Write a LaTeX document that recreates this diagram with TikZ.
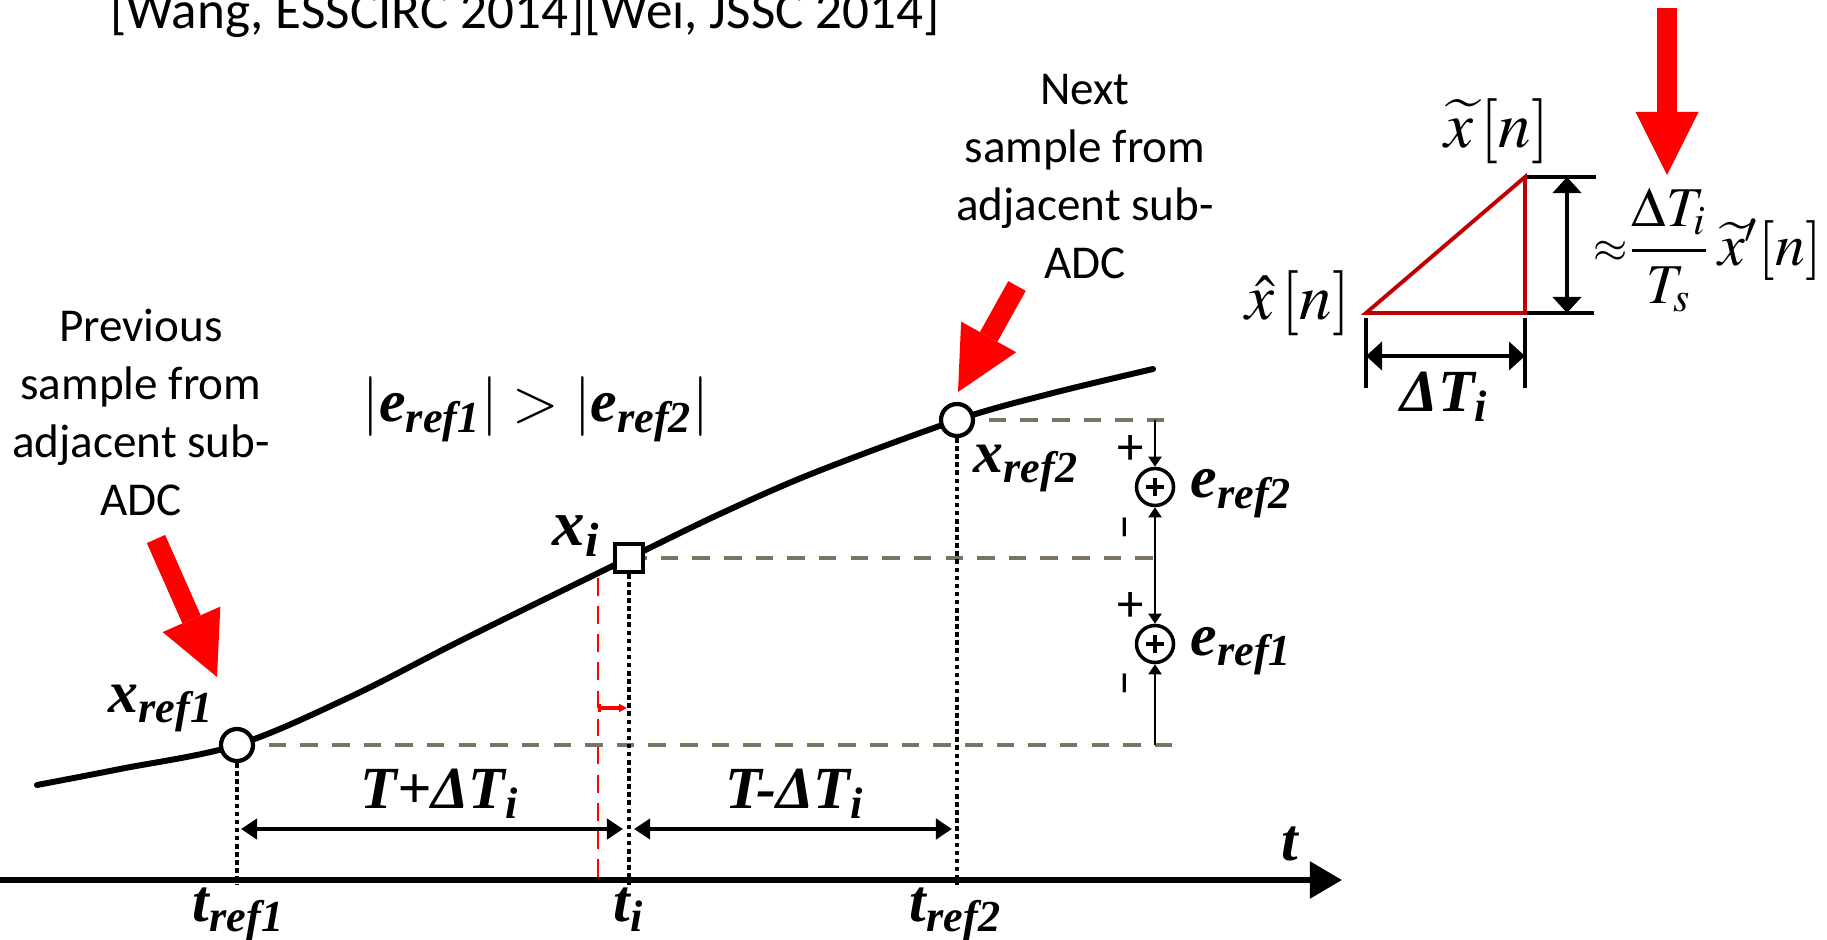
\documentclass[tikz,border=0pt]{standalone}
\usepackage{mathptmx}
\usepackage{fontspec}
\setmainfont{Liberation Serif}
\newfontfamily\timesfont{Liberation Serif}
\newfontfamily\calibri{Carlito}
\usetikzlibrary{arrows.meta}

\newcommand{\bi}[2]{{\timesfont\bfseries\itshape #1\textsubscript{#2}}}

\begin{document}
\begin{tikzpicture}[
		x=0.01cm,
		y=-0.01cm,
		every node/.style={inner sep=0pt},
		note/.style={font=\calibri\fontsize{13.4}{16.5}\selectfont, align=center},
		lbl/.style={font=\fontsize{17}{20}\selectfont},
		formula/.style={font=\fontsize{18.5}{22}\selectfont},
		curve/.style={line width=1.7pt, line cap=round},
		sample/.style={circle, draw, fill=white, line width=1.2pt, minimum size=0.32cm},
		sqnode/.style={rectangle, draw, fill=white, line width=1.1pt, minimum size=0.28cm},
		level/.style={draw=levelgray, line width=0.9pt, dash pattern=on 5pt off 4pt},
		drop/.style={line width=1.3pt, dash pattern=on 1.3pt off 1pt},
		ideal/.style={red, line width=0.5pt, dash pattern=on 5pt off 3pt},
		span/.style={line width=1.2pt, {Triangle[length=0.16cm, width=0.2cm]}-{Triangle[length=0.16cm, width=0.2cm]}},
		sumline/.style={line width=0.6pt, -{Triangle[length=0.1cm, width=0.13cm]}},
		sumnode/.style={circle, draw, fill=white, line width=1pt, minimum size=0.37cm,
				path picture={\draw[line width=1pt]
						([xshift=-0.09cm]path picture bounding box.center) -- ([xshift=0.09cm]path picture bounding box.center)
						([yshift=-0.09cm]path picture bounding box.center) -- ([yshift=0.09cm]path picture bounding box.center);}},
		sign/.style={font=\calibri\fontsize{15}{15}\selectfont},
		bigarrow/.style={draw=red, line width=0.2cm, -{Triangle[length=0.63cm, width=0.63cm, line width=0pt]}},
		tick/.style={line width=1.2pt},
		dim/.style={line width=1.2pt, {Triangle[length=0.16cm, width=0.28cm]}-{Triangle[length=0.16cm, width=0.28cm]}},
		tri/.style={draw=darkred, line width=1.1pt, line join=miter}
	]
	\definecolor{levelgray}{RGB}{122,117,96}
	\definecolor{darkred}{RGB}{192,0,0}
	\useasboundingbox (0,0) rectangle (1827,940);

	% ---- header and notes ----------------------------------------
	\node[note, anchor=base, font=\calibri\fontsize{15.1}{18}\selectfont] (cite) at (525,29) {[Wang, ESSCIRC 2014][Wei, JSSC 2014]};
	\node[note] (prev) at (141,412) {Previous\\sample from\\adjacent sub-\\ADC};
	\node[note] (next) at (1085,177) {Next\\sample from\\adjacent sub-\\ADC};

	% ---- time axis -----------------------------------------------
	\coordinate (o) at (0,880);
	\coordinate (tend) at (1342,880);
	\draw[line width=1.5pt, -{Triangle[length=0.32cm, width=0.36cm]}] (o) -- (tend);
	\node[lbl, anchor=base] (tlab) at (1291,860) {\bi{t}{}};

	% ---- signal curve --------------------------------------------
	\draw[curve] plot[smooth, tension=0.55] coordinates {(37,785) (120,769) (237,745) (350,697) (466,638) (629,558) (722,513) (816,472) (957,420) (1049,394) (1153,369)};

	% ---- levels and sampling instants ----------------------------
	\coordinate (d2) at (1178,420);
	\coordinate (di) at (1167,558);
	\coordinate (d1) at (1172,745);
	\draw[level] (957,420) -- (d2);
	\draw[level] (629,558) -- (di);
	\draw[level] (237,745) -- (d1);

	\coordinate (rtop) at (598,578);
	\draw[ideal] (rtop) -- (rtop |- o);

	\node[sample] (xr1) at (237,745) {};
	\node[sample] (xr2) at (957,420) {};
	\node[sqnode] (xi) at (629,558) {};

	\draw[drop] (xr1.south) -- ([yshift=-0.05cm]xr1 |- o);
	\draw[drop] (xi.south) -- ([yshift=-0.05cm]xi |- o);
	\draw[drop] (xr2.south) -- ([yshift=-0.05cm]xr2 |- o);

	\draw[red, line width=0.9pt, {Bar[width=0.08cm]}-{Triangle[length=0.08cm, width=0.08cm]}] (rtop |- 0,708) -- ([xshift=-0.02cm]xi |- 0,708);

	\node[lbl, anchor=base west] (lxr1) at (108,712) {\bi{x}{ref1}};
	\node[lbl, anchor=base west] (lxr2) at (973,472) {\bi{x}{ref2}};
	\node[lbl, anchor=base west, font=\fontsize{18.5}{20}\selectfont] (lxi) at (552,545) {\bi{x}{i}};
	\node[lbl, anchor=base] (cmp) at (536,422) {$|$\bi{e}{ref1}$|$ $>$ $|$\bi{e}{ref2}$|$};

	\node[lbl, anchor=base] (lt1) at (239,921) {\bi{t}{ref1}};
	\node[lbl, anchor=base] (lti) at (629,921) {\bi{t}{i}};
	\node[lbl, anchor=base] (lt2) at (956,921) {\bi{t}{ref2}};

	% ---- intervals -----------------------------------------------
	\draw[span] ([xshift=0.04cm]xr1 |- 0,829) -- ([xshift=-0.06cm]xi |- 0,829);
	\draw[span] ([xshift=0.05cm]xi |- 0,829) -- ([xshift=-0.05cm]xr2 |- 0,829);
	\node[lbl, anchor=base] (lplus) at (440,808) {\bi{T+ΔT}{i}};
	\node[lbl, anchor=base] (lminus) at (795,808) {\bi{T-ΔT}{i}};

	% ---- error summation -----------------------------------------
	\node[sumnode] (s2) at (1155,487) {};
	\node[sumnode] (s1) at (1155,644) {};
	\draw[sumline] (d2 -| s2) -- (s2);
	\draw[sumline] (di -| s2) -- (s2);
	\draw[sumline] (di -| s1) -- (s1);
	\draw[sumline] (d1 -| s1) -- (s1);
	\foreach \y in {450,607} {
			\node[sign] at (1131,\y) {+};
		}
	\foreach \y in {527,683} {
			\node[sign, rotate=90] at (1131,\y) {–};
		}
	\node[lbl, anchor=base west] (le2) at (1190,498) {\bi{e}{ref2}};
	\node[lbl, anchor=base west] (le1) at (1190,655) {\bi{e}{ref1}};

	% ---- pointers ------------------------------------------------
	\coordinate (p1a) at (156,539);
	\coordinate (p1b) at (217,677);
	\coordinate (p2a) at (1017,286);
	\coordinate (p2b) at (958,392);
	\coordinate (p3a) at (1667,8);
	\coordinate (p3b) at (1667,175);
	\draw[bigarrow] (p1a) -- (p1b);
	\draw[bigarrow] (p2a) -- (p2b);
	\draw[bigarrow] (p3a) -- (p3b);

	% ---- interpolation triangle ----------------------------------
	\coordinate (hat) at (1366,313);
	\coordinate (til) at (1525,177);
	\coordinate (cor) at (1525,313);
	\coordinate (tilR) at (1596,177);
	\coordinate (corR) at (1594,313);
	\draw[tick] (til) -- (tilR);
	\draw[tick] (cor) -- (corR);
	\draw[tick] ([yshift=-0.05cm]hat) -- (hat |- 0,388);
	\draw[tick] ([yshift=-0.05cm]cor) -- (cor |- 0,388);
	\draw[dim] (1567,177) -- (1567,313);
	\draw[dim] (hat |- 0,356) -- (cor |- 0,356);
	\draw[tri] (hat) -- (til) -- (cor) -- cycle;

	\node[formula] (xtil) at (1497,131) {$\widetilde{x}\,[n]$};
	\node[formula] (xhat) at (1298,303) {$\hat{x}\,[n]$};
	\node[lbl] (ldt) at (1445,397) {\bi{ΔT}{i}};
	\node[font=\fontsize{12.5}{14}\selectfont] (apx) at (1611,252) {$\approx$};
	\node[font=\fontsize{16}{19}\selectfont] (frac) at (1669,250) {$\displaystyle\frac{\Delta T_i}{T_s}$};
	\node[font=\fontsize{17}{20}\selectfont] (xder) at (1770,250) {$\widetilde{x}{}'[n]$};
\end{tikzpicture}
\end{document}
